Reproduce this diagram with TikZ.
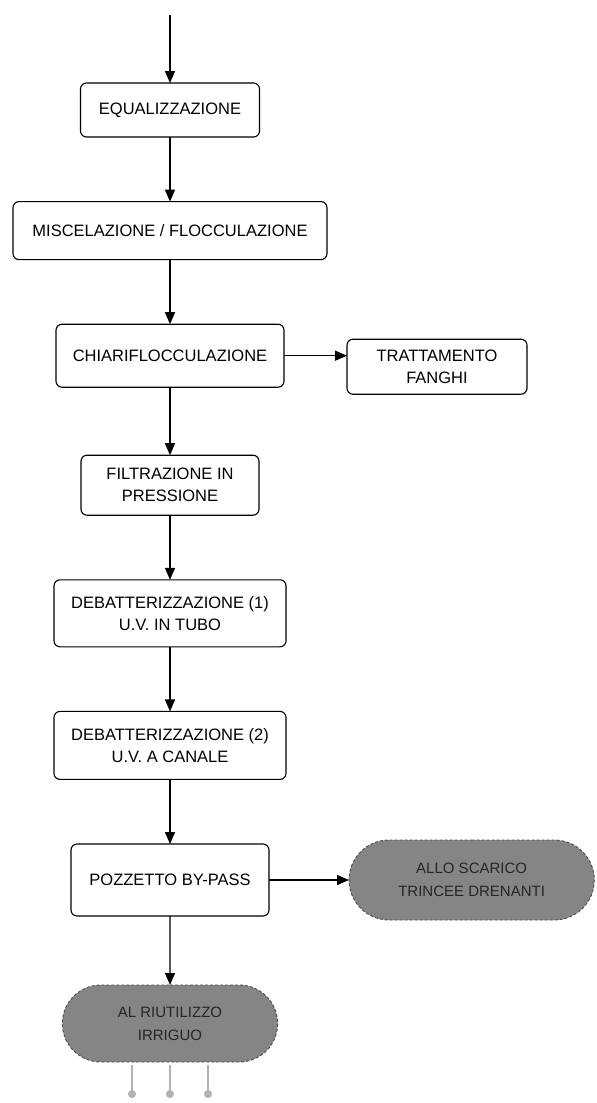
\documentclass[tikz,border=0pt]{standalone}
\usepackage{fontspec}
\setmainfont{Liberation Sans}
\usetikzlibrary{positioning,arrows.meta,shapes.misc}
\tikzset{
    stage/.style={draw,rounded corners=6pt,line width=1.1pt,outer sep=0pt,align=center,inner sep=3pt,font=\fontsize{16.5}{22}\selectfont},
    outlet/.style={rounded rectangle,draw=black!70,densely dashed,line width=0.9pt,outer sep=0pt,fill=black!48,text=black!85,align=center,font=\fontsize{15}{23}\selectfont},
    flow/.style={-{Triangle[length=12pt,width=10pt]},line width=1.4pt},
    spill/.style={-{Circle[length=8pt]},draw=black!30,line width=1.2pt},
}

\begin{document}
\begin{tikzpicture}[node distance=64.6pt]
    \useasboundingbox (0,0) rectangle (597pt,-1103pt);
    \node[stage,minimum width=179pt,minimum height=54pt] (eq) at (170pt,-110pt) {EQUALIZZAZIONE};
    \node[stage,minimum width=314pt,minimum height=58pt,below=of eq] (misc) {MISCELAZIONE / FLOCCULAZIONE};
    \node[stage,minimum width=228pt,minimum height=63pt,below=of misc] (chiari) {CHIARIFLOCCULAZIONE};
    \node[stage,minimum width=180pt,minimum height=55pt,right=63pt of chiari,yshift=-11pt] (fanghi) {TRATTAMENTO\\FANGHI};
    \node[stage,minimum width=178pt,minimum height=60pt,below=68pt of chiari] (filtr) {FILTRAZIONE IN\\PRESSIONE};
    \node[stage,minimum width=232pt,minimum height=67pt,below=of filtr] (deb1) {DEBATTERIZZAZIONE (1)\\U.V. IN TUBO};
    \node[stage,minimum width=232pt,minimum height=68pt,below=of deb1] (deb2) {DEBATTERIZZAZIONE (2)\\U.V. A CANALE};
    \node[stage,minimum width=198pt,minimum height=72pt,below=of deb2] (pozz) {POZZETTO BY-PASS};
    \node[outlet,minimum width=252pt,minimum height=80pt,right=80pt of pozz] (scarico) {ALLO SCARICO\\TRINCEE DRENANTI};
    \node[outlet,minimum width=222pt,minimum height=77pt,below=69pt of pozz] (riuso) {AL RIUTILIZZO\\IRRIGUO};
    % free ends
    \coordinate (in) at ([yshift=68pt]eq.north);
    \coordinate (out1) at ([xshift=-38pt,yshift=-36pt]riuso.south);
    \coordinate (out2) at ([yshift=-36pt]riuso.south);
    \coordinate (out3) at ([xshift=38pt,yshift=-36pt]riuso.south);
    \draw[flow] (in) -- (eq);
    \draw[flow] (eq) -- (misc);
    \draw[flow] (misc) -- (chiari);
    \draw[flow] (chiari.east) -- (chiari.east -| fanghi.west);
    \draw[flow] (chiari) -- (filtr);
    \draw[flow] (filtr) -- (deb1);
    \draw[flow] (deb1) -- (deb2);
    \draw[flow] (deb2) -- (pozz);
    \draw[flow] (pozz) -- (scarico);
    \draw[flow] (pozz) -- (riuso);
    \draw[spill] ([yshift=-3pt]riuso.south -| out1) -- (out1);
    \draw[spill] ([yshift=-3pt]riuso.south) -- (out2);
    \draw[spill] ([yshift=-3pt]riuso.south -| out3) -- (out3);
\end{tikzpicture}
\end{document}
